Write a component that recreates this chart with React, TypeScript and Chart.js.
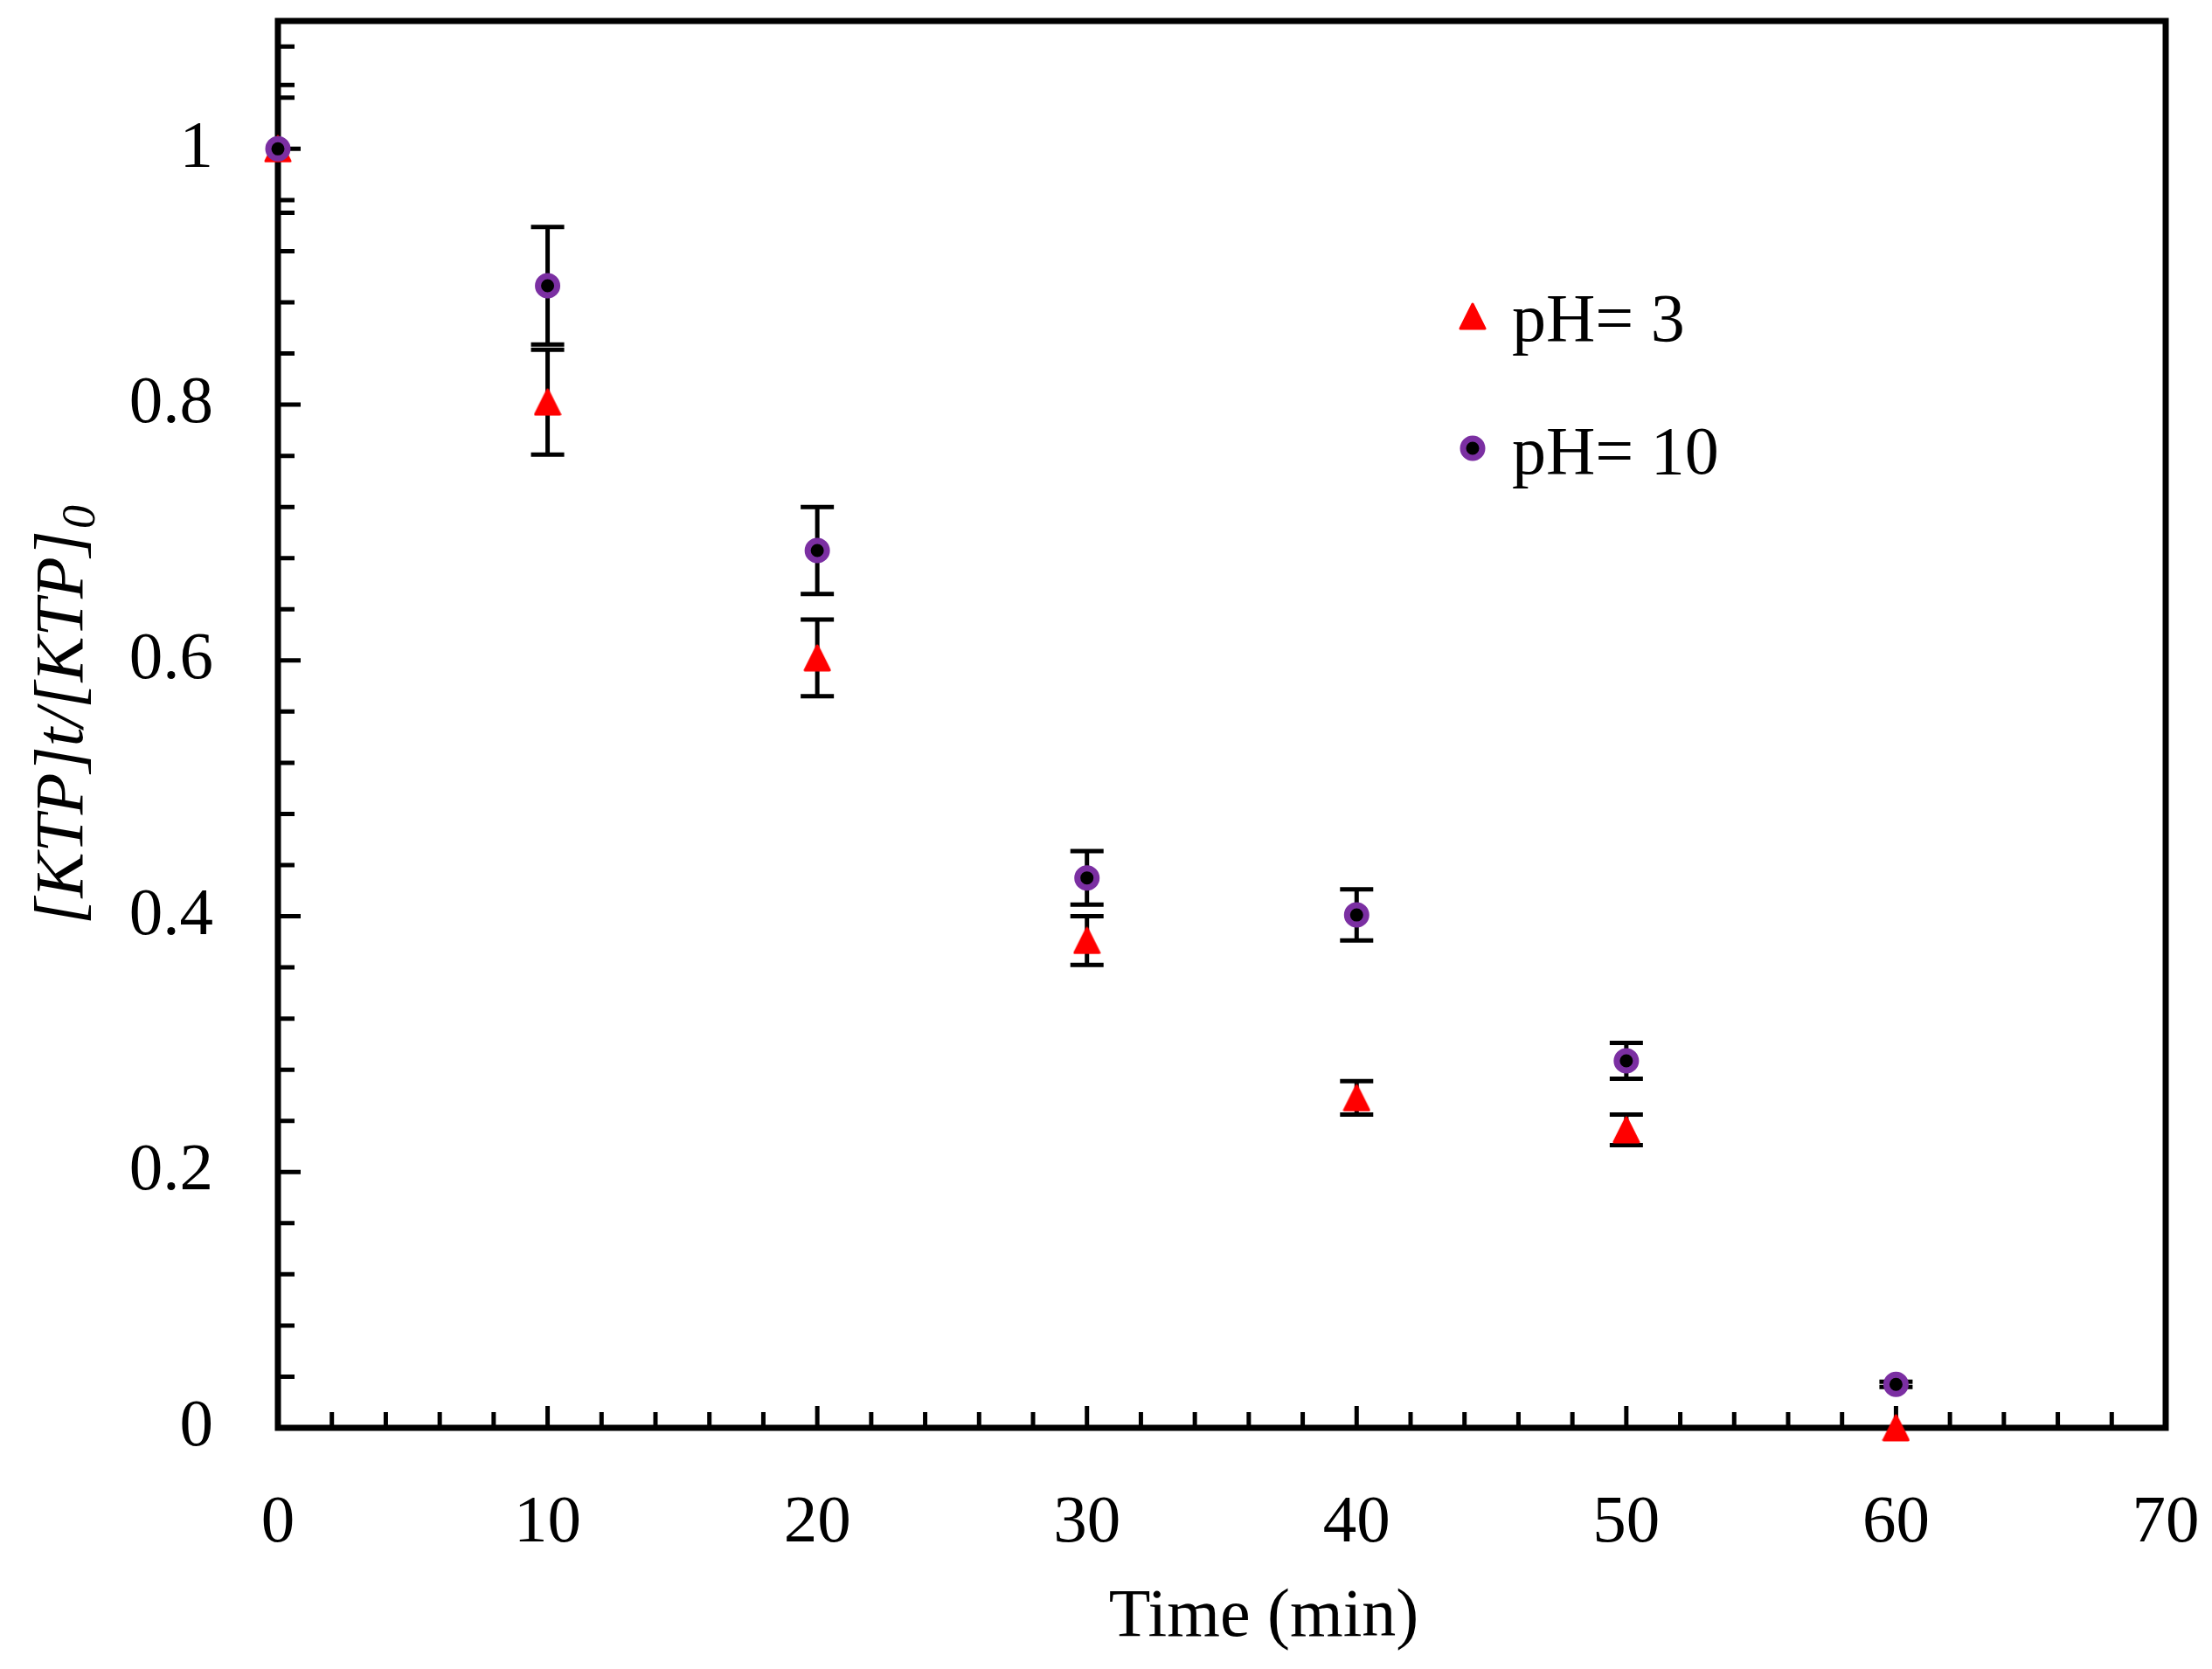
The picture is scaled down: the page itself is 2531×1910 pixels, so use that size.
import React, { useEffect, useRef } from 'react';
import { Chart, registerables } from 'chart.js';

Chart.register(...registerables);

// time axis (min) and the two series with their error bars
const timeMin = [0, 10, 20, 30, 40, 50, 60];
const ph3Values = [1.0, 0.802, 0.602, 0.381, 0.258, 0.233, 0.0];
const ph3Errors = [0, 0.041, 0.03, 0.019, 0.013, 0.012, 0];
const ph10Values = [1.0, 0.893, 0.686, 0.43, 0.401, 0.287, 0.034];
const ph10Errors = [0, 0.046, 0.034, 0.021, 0.02, 0.014, 0.002];

const xTickValues = [0, 10, 20, 30, 40, 50, 60, 70];
const yTickValues = [0, 0.2, 0.4, 0.6, 0.8, 1];
const yStrayTicks = [0.95, 1.05];

const SERIF = "'Liberation Serif', 'Times New Roman', serif";
const RED = '#FF0000';
const PURPLE = '#7B2FA2';

function makeTriangle(size: number, color: string) {
    const c = document.createElement('canvas');
    c.width = size;
    c.height = size;
    const g = c.getContext('2d')!;
    g.fillStyle = color;
    g.strokeStyle = color;
    g.lineWidth = 3;
    g.lineJoin = 'round';
    g.beginPath();
    g.moveTo(size / 2, 2);
    g.lineTo(size - 2, size - 2);
    g.lineTo(2, size - 2);
    g.closePath();
    g.fill();
    g.stroke();
    return c;
}

const frameTicks = {
    id: 'frameTicks',
    beforeDatasetsDraw(chart: any) {
        const { ctx, chartArea: a, scales } = chart;
        const x = scales.x;
        const y = scales.y;
        ctx.save();
        ctx.strokeStyle = '#000';
        ctx.lineWidth = 5;
        ctx.beginPath();
        for (let t = 0; t <= 70; t += 2) {
            const px = x.getPixelForValue(t);
            const len = t % 10 === 0 ? 25 : 18;
            ctx.moveTo(px, a.bottom);
            ctx.lineTo(px, a.bottom - len);
        }
        for (let i = 0; i <= 27; i++) {
            const v = i * 0.04;
            const py = y.getPixelForValue(v);
            const major = yTickValues.some((m) => Math.abs(m - v) < 1e-6);
            ctx.moveTo(a.left, py);
            ctx.lineTo(a.left + (major ? 26 : 19), py);
        }
        yStrayTicks.forEach((v) => {
            const py = y.getPixelForValue(v);
            ctx.moveTo(a.left, py);
            ctx.lineTo(a.left + 19, py);
        });
        ctx.stroke();
        ctx.lineWidth = 7;
        ctx.strokeRect(a.left, a.top, a.right - a.left, a.bottom - a.top);
        ctx.restore();
    },
};

const errorBars = {
    id: 'errorBars',
    beforeDatasetsDraw(chart: any) {
        const { ctx, scales } = chart;
        const x = scales.x;
        const y = scales.y;
        const cap = 19;
        ctx.save();
        ctx.strokeStyle = '#000';
        ctx.lineWidth = 5;
        const series = [
            [ph3Values, ph3Errors],
            [ph10Values, ph10Errors],
        ];
        series.forEach(([vals, errs]) => {
            timeMin.forEach((t, i) => {
                if (!errs[i]) return;
                const px = x.getPixelForValue(t);
                const top = y.getPixelForValue(vals[i] + errs[i]);
                const bot = y.getPixelForValue(vals[i] - errs[i]);
                ctx.beginPath();
                ctx.moveTo(px, top);
                ctx.lineTo(px, bot);
                ctx.moveTo(px - cap, top);
                ctx.lineTo(px + cap, top);
                ctx.moveTo(px - cap, bot);
                ctx.lineTo(px + cap, bot);
                ctx.stroke();
            });
        });
        ctx.restore();
    },
};

const makeLegend = (tri: HTMLCanvasElement) => ({
    id: 'insideLegend',
    afterDatasetsDraw(chart: any) {
        const { ctx } = chart;
        ctx.save();
        ctx.drawImage(tri, 1685 - tri.width / 2, 362 - tri.height / 2);
        ctx.beginPath();
        ctx.arc(1685, 513, 11, 0, Math.PI * 2);
        ctx.fillStyle = '#000';
        ctx.fill();
        ctx.lineWidth = 7;
        ctx.strokeStyle = PURPLE;
        ctx.stroke();
        ctx.fillStyle = '#000';
        ctx.font = `78px ${SERIF}`;
        ctx.textAlign = 'left';
        ctx.textBaseline = 'alphabetic';
        ctx.fillText('pH= 3', 1730, 390);
        ctx.fillText('pH= 10', 1730, 542);
        ctx.restore();
    },
});

const axisTitles = {
    id: 'axisTitles',
    afterDraw(chart: any) {
        const { ctx } = chart;
        ctx.save();
        ctx.fillStyle = '#000';
        ctx.textBaseline = 'alphabetic';

        ctx.font = `78px ${SERIF}`;
        ctx.textAlign = 'center';
        ctx.fillText('Time (min)', 1446, 1872);

        ctx.translate(94, 819);
        ctx.rotate(-Math.PI / 2);
        ctx.textAlign = 'left';
        const main = '[KTP]t/[KTP]';
        ctx.font = `italic 78px ${SERIF}`;
        const w1 = ctx.measureText(main).width;
        ctx.font = `italic 54px ${SERIF}`;
        const w2 = ctx.measureText('0').width;
        const start = -(w1 + w2) / 2;
        ctx.font = `italic 78px ${SERIF}`;
        ctx.fillText(main, start, 0);
        ctx.font = `italic 54px ${SERIF}`;
        ctx.fillText('0', start + w1 + 2, 14);
        ctx.restore();
    },
};

const App: React.FC = () => {
    const chartRef = useRef<HTMLCanvasElement>(null);
    const chartInstance = useRef<Chart | null>(null);

    useEffect(() => {
        if (!chartRef.current) return;
        const ctx = chartRef.current.getContext('2d');
        if (!ctx) return;

        if (chartInstance.current) {
            chartInstance.current.destroy();
        }

        const tri = makeTriangle(32, RED);

        chartInstance.current = new Chart(ctx, {
            type: 'scatter',
            data: {
                datasets: [
                    {
                        label: 'pH= 3',
                        data: timeMin.map((t, i) => ({ x: t, y: ph3Values[i] })),
                        pointStyle: tri as any,
                        pointRadius: 16,
                        backgroundColor: RED,
                        borderColor: RED,
                        order: 1,
                        clip: false as any,
                    },
                    {
                        label: 'pH= 10',
                        data: timeMin.map((t, i) => ({ x: t, y: ph10Values[i] })),
                        pointStyle: 'circle',
                        pointRadius: 11,
                        pointBorderWidth: 7,
                        backgroundColor: '#000',
                        borderColor: PURPLE,
                        order: 0,
                        clip: false as any,
                    },
                ],
            },
            options: {
                animation: false,
                responsive: true,
                maintainAspectRatio: false,
                devicePixelRatio: 1,
                events: [],
                layout: { padding: { left: 0, right: 53, top: 24, bottom: 0 } },
                plugins: {
                    legend: { display: false },
                    tooltip: { enabled: false },
                    title: { display: false },
                },
                scales: {
                    x: {
                        type: 'linear',
                        min: 0,
                        max: 70,
                        afterFit: (s: any) => {
                            s.height = 276;
                            s.paddingLeft = 0;
                            s.paddingRight = 0;
                        },
                        afterBuildTicks: (s: any) => {
                            s.ticks = xTickValues.map((v) => ({ value: v }));
                        },
                        grid: { display: false, drawTicks: false },
                        border: { display: false },
                        ticks: {
                            padding: 64,
                            color: '#000',
                            autoSkip: false,
                            maxRotation: 0,
                            font: { family: SERIF, size: 77 },
                        },
                    },
                    y: {
                        type: 'linear',
                        min: 0,
                        max: 1.1,
                        afterFit: (s: any) => {
                            s.width = 318;
                            s.paddingTop = 0;
                            s.paddingBottom = 0;
                        },
                        afterBuildTicks: (s: any) => {
                            s.ticks = yTickValues.map((v) => ({ value: v }));
                        },
                        grid: { display: false, drawTicks: false },
                        border: { display: false },
                        ticks: {
                            padding: 74,
                            color: '#000',
                            autoSkip: false,
                            font: { family: SERIF, size: 77 },
                            callback: (v: any) => String(+Number(v).toFixed(1)),
                        },
                    },
                },
            },
            plugins: [frameTicks, errorBars, makeLegend(tri), axisTitles],
        });

        return () => {
            if (chartInstance.current) {
                chartInstance.current.destroy();
                chartInstance.current = null;
            }
        };
    }, []);

    return (
        <div style={{ position: 'absolute', left: 0, top: 0, width: '2531px', height: '1910px', background: '#fff' }}>
            <canvas ref={chartRef}></canvas>
        </div>
    );
};

export default App;
